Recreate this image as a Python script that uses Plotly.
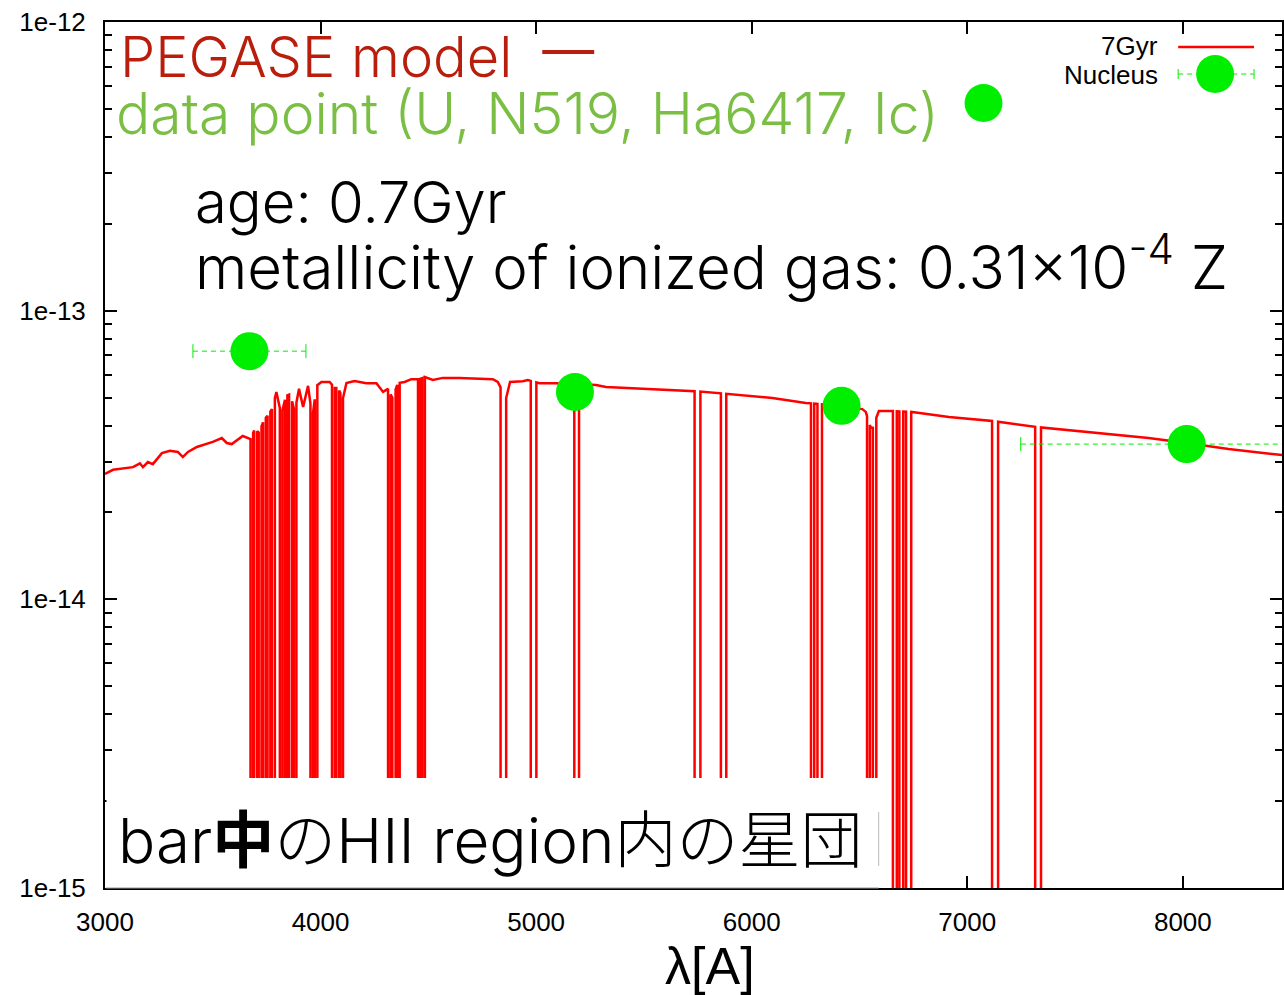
import numpy as np
import plotly.graph_objects as go

# ---------------- data ----------------
# PEGASE model continuum (wavelength [A], flux)
cont_wl = [3000, 3037, 3130, 3162, 3176, 3199, 3222, 3264, 3301, 3338, 3361, 3385,
           3426, 3500, 3542, 3565, 3588, 3639, 3675, 3695, 3715, 3737, 3757, 3777,
           3795, 3818, 3839, 3860, 3880, 3900, 3919, 3942, 3962, 3981, 4004, 4042,
           4066, 4080, 4104, 4120, 4158, 4212, 4259, 4290, 4313, 4333, 4359, 4390,
           4421, 4459, 4483, 4521, 4567, 4645, 4799, 4822, 4861, 4879, 4938, 4961,
           5015, 5092, 5278, 5324, 5479, 5633, 5787, 5896, 6096, 6251, 6343, 6513,
           6529, 6552, 6560, 6590, 6652, 6745, 6915, 7114, 7313, 7610, 7841, 8018,
           8212, 8462]
cont_flux = [2.72e-14, 2.81e-14, 2.87e-14, 2.96e-14, 2.87e-14, 2.99e-14, 2.94e-14,
             3.21e-14, 3.27e-14, 3.24e-14, 3.11e-14, 3.24e-14, 3.37e-14, 3.51e-14,
             3.62e-14, 3.48e-14, 3.45e-14, 3.68e-14, 3.59e-14, 3.89e-14, 3.77e-14,
             4.18e-14, 4.35e-14, 4.60e-14, 5.23e-14, 4.35e-14, 5.06e-14, 5.14e-14,
             4.46e-14, 5.36e-14, 4.64e-14, 5.49e-14, 4.25e-14, 5.49e-14, 5.66e-14,
             5.66e-14, 5.40e-14, 5.40e-14, 4.98e-14, 5.61e-14, 5.70e-14, 5.61e-14,
             5.61e-14, 5.23e-14, 5.36e-14, 4.98e-14, 5.61e-14, 5.66e-14, 5.79e-14,
             5.79e-14, 5.89e-14, 5.75e-14, 5.85e-14, 5.85e-14, 5.79e-14, 5.66e-14,
             4.98e-14, 5.66e-14, 5.70e-14, 5.75e-14, 5.61e-14, 5.61e-14, 5.53e-14,
             5.44e-14, 5.36e-14, 5.31e-14, 5.23e-14, 5.14e-14, 4.98e-14, 4.79e-14,
             4.73e-14, 4.56e-14, 4.46e-14, 3.93e-14, 3.93e-14, 4.49e-14, 4.49e-14,
             4.46e-14, 4.28e-14, 4.15e-14, 3.96e-14, 3.77e-14, 3.62e-14, 3.48e-14,
             3.32e-14, 3.16e-14]
# line features where the model flux drops out (start, end wavelength [A])
line_start = [3675, 3692, 3713, 3733, 3754, 3774, 3811, 3835, 3854, 3876, 3953, 3973,
              4053, 4073, 4092, 4313, 4333, 4356, 4452, 4472, 4835, 4975, 5177, 5735,
              5857, 6275, 6305, 6535, 6562, 6655, 6685, 6716, 7115, 7315]
line_end = [3687, 3706, 3726, 3746, 3767, 3788, 3823, 3846, 3868, 3888, 3965, 3985,
            4066, 4086, 4104, 4325, 4348, 4367, 4462, 4484, 4861, 5001, 5199, 5762,
            5882, 6290, 6326, 6548, 6578, 6673, 6703, 6740, 7143, 7342]
line_floor_flux = 1e-18

# Nucleus photometry (U, N519, Ha6417, Ic)
nuc_wl = [3670, 5180, 6417, 8018]
nuc_flux = [7.24e-14, 5.23e-14, 4.68e-14, 3.45e-14]
nuc_wl_err = [262, 30, 40, 770]

x_ticks = [3000, 4000, 5000, 6000, 7000, 8000]
y_ticks = [1e-15, 1e-14, 1e-13, 1e-12]
y_tick_text = ["1e-15", "1e-14", "1e-13", "1e-12"]

# ---------------- build model polyline ----------------
logc = np.log10(cont_flux)
pts = []
for w, f in zip(cont_wl, cont_flux):
    if any(a <= w <= b for a, b in zip(line_start, line_end)):
        continue
    pts.append((w, 0, f))
for a, b in zip(line_start, line_end):
    fa = 10 ** np.interp(a, cont_wl, logc)
    fb = 10 ** np.interp(b, cont_wl, logc)
    pts += [(a, 1, fa), (a, 2, line_floor_flux), (b, 3, line_floor_flux), (b, 4, fb)]
pts.sort()
model_x = [p[0] for p in pts]
model_y = [p[2] for p in pts]

# ---------------- layout geometry ----------------
W, H = 1284, 995
L, T, R, B = 105, 22, 0, 107
PW, PH = W - L - R, H - T - B


def px(x):
    return (x - L) / PW


def py(y):
    return (T + PH - y) / PH


RED = "#ff0000"
GREEN = "#00ee00"
TXT_RED = "#b91d0c"
TXT_GREEN = "#7abf43"
LIGHT = dict(family="Inter, Roboto, Liberation Sans", weight=300)

fig = go.Figure()

fig.add_trace(go.Scatter(
    x=model_x, y=model_y, mode="lines", name="7Gyr",
    line=dict(color=RED, width=2.5), showlegend=False))

# dashed horizontal error bars
eb_x, eb_y = [], []
for w, f, e in zip(nuc_wl, nuc_flux, nuc_wl_err):
    eb_x += [w - e, w + e, None]
    eb_y += [f, f, None]
fig.add_trace(go.Scatter(
    x=eb_x, y=eb_y, mode="lines+markers", showlegend=False,
    line=dict(color=GREEN, width=1, dash="5px,4px"),
    marker=dict(symbol="line-ns", size=10, line=dict(color=GREEN, width=1))))

fig.add_trace(go.Scatter(
    x=nuc_wl, y=nuc_flux, mode="markers", name="Nucleus", showlegend=False,
    marker=dict(color=GREEN, size=38)))

shapes = []
annotations = []

# white label box at lower left
shapes.append(dict(type="rect", xref="paper", yref="paper",
                   x0=px(106.5), x1=px(880), y0=0, y1=py(778),
                   fillcolor="white", line=dict(width=0), layer="above"))
shapes.append(dict(type="line", xref="paper", yref="paper",
                   x0=px(106), x1=px(880), y0=0, y1=0,
                   line=dict(color="#999999", width=1), layer="above"))
shapes.append(dict(type="line", xref="paper", yref="paper",
                   x0=px(880), x1=px(880), y0=py(866), y1=py(812),
                   line=dict(color="#bbbbbb", width=1), layer="above"))

# legend (top right)
LEG_FONT = dict(family="Liberation Sans", size=26, color="black")
shapes.append(dict(type="line", xref="paper", yref="paper",
                   x0=px(1180), x1=px(1256), y0=py(47), y1=py(47),
                   line=dict(color=RED, width=2.5)))
shapes.append(dict(type="line", xref="paper", yref="paper",
                   x0=px(1180), x1=px(1256), y0=py(74), y1=py(74),
                   line=dict(color=GREEN, width=1, dash="5px,4px")))
for cx in (1180, 1256):
    shapes.append(dict(type="line", xref="paper", yref="paper",
                       x0=px(cx), x1=px(cx), y0=py(69), y1=py(79),
                       line=dict(color=GREEN, width=1)))
shapes.append(dict(type="circle", xref="paper", yref="paper",
                   x0=px(1198), x1=px(1236), y0=py(93), y1=py(55),
                   fillcolor=GREEN, line=dict(width=0)))
annotations.append(dict(text="7Gyr", xref="paper", yref="paper", x=px(1162), y=py(46),
                        xanchor="right", yanchor="middle", showarrow=False, font=LEG_FONT))
annotations.append(dict(text="Nucleus", xref="paper", yref="paper", x=px(1162), y=py(75),
                        xanchor="right", yanchor="middle", showarrow=False, font=LEG_FONT))

# overlay texts
annotations.append(dict(text="PEGASE model", xref="paper", yref="paper",
                        x=px(118), y=py(57), xanchor="left", yanchor="middle",
                        showarrow=False, font=dict(size=56, color=TXT_RED, **LIGHT)))
shapes.append(dict(type="line", xref="paper", yref="paper",
                   x0=px(543), x1=px(595), y0=py(52), y1=py(52),
                   line=dict(color=TXT_RED, width=4)))
annotations.append(dict(text="data point (U, N519, Ha6417, Ic)", xref="paper", yref="paper",
                        x=px(114), y=py(114), xanchor="left", yanchor="middle",
                        showarrow=False, font=dict(size=57, color=TXT_GREEN, **LIGHT)))
shapes.append(dict(type="circle", xref="paper", yref="paper",
                   x0=px(966), x1=px(1004), y0=py(122), y1=py(84),
                   fillcolor=GREEN, line=dict(width=0)))
annotations.append(dict(text="age: 0.7Gyr", xref="paper", yref="paper",
                        x=px(193), y=py(202), xanchor="left", yanchor="middle",
                        showarrow=False, font=dict(size=58, color="black", **LIGHT)))
annotations.append(dict(text="metallicity of ionized gas: 0.31×10<sup>-4</sup> Z",
                        xref="paper", yref="paper",
                        x=px(193), y=py(263), xanchor="left", yanchor="middle",
                        showarrow=False, font=dict(size=60, color="black", **LIGHT)))
annotations.append(dict(text="bar<b>中</b>のHII region内の星団", xref="paper", yref="paper",
                        x=px(116), y=py(840), xanchor="left", yanchor="middle",
                        showarrow=False,
                        font=dict(family="Inter, Noto Sans CJK JP", weight=300,
                                  size=62, color="black")))

# x-axis title
annotations.append(dict(text="λ[A]", xref="paper", yref="paper",
                        x=px(711), y=py(966), xanchor="center", yanchor="middle",
                        showarrow=False,
                        font=dict(family="Liberation Sans", size=52, color="black")))

fig.update_layout(
    width=W, height=H,
    margin=dict(l=L, r=R, t=T, b=B),
    paper_bgcolor="white", plot_bgcolor="white",
    shapes=shapes, annotations=annotations,
    showlegend=False,
    font=dict(family="Liberation Sans", color="black"),
)
fig.update_xaxes(
    range=[3000, 8460], tickvals=x_ticks, ticktext=[str(v) for v in x_ticks],
    ticks="inside", ticklen=12, tickwidth=1.5, tickcolor="black",
    showline=True, linecolor="black", linewidth=2, mirror="ticks",
    showgrid=False, zeroline=False,
    tickfont=dict(family="Liberation Sans", size=26, color="black"),
    ticklabelstandoff=10,
)
fig.update_yaxes(
    type="log", range=[-15, -12], tickvals=y_ticks, ticktext=y_tick_text,
    ticks="inside", ticklen=12, tickwidth=1.5, tickcolor="black",
    minor=dict(ticks="inside", ticklen=7, tickwidth=1.5, tickcolor="black",
               tickvals=[k * 10.0 ** e for e in (-15, -14, -13) for k in range(2, 10)],
               showgrid=False),
    showline=True, linecolor="black", linewidth=2, mirror="ticks",
    showgrid=False, zeroline=False,
    tickfont=dict(family="Liberation Sans", size=26, color="black"),
    ticklabelstandoff=12,
)

fig.write_html("out.html")
